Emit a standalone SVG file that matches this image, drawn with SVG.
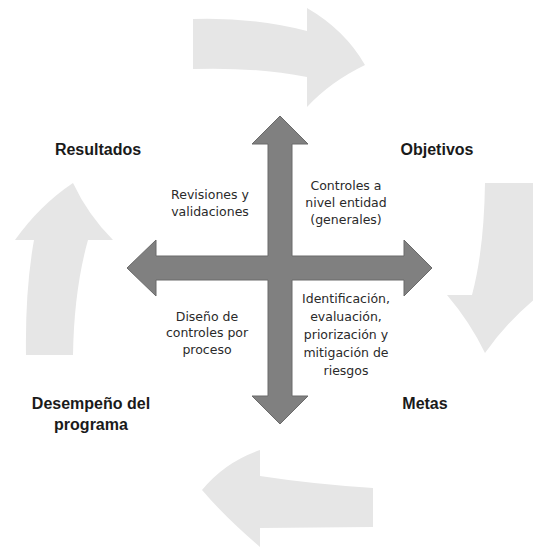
<svg xmlns="http://www.w3.org/2000/svg" width="533" height="550" viewBox="0 0 533 550">
  <style>
    .cycle { fill: #e6e6e6; }
    .cross { fill: #808080; stroke: #6a6a6a; stroke-width: 1; stroke-linejoin: miter; }
    .stage { font-family: "Liberation Sans", Arial, sans-serif; font-weight: bold; font-size: 16px; fill: #1a1a1a; text-anchor: middle; }
    .note { font-family: "DejaVu Sans", "Liberation Sans", sans-serif; font-size: 12.5px; fill: #2a2a2a; text-anchor: middle; }
  </style>
  <rect width="533" height="550" fill="#ffffff"/>

  <!-- light cycle arrows around the outside -->
  <g id="connectors">
    <path class="cycle" d="M193,19 Q252,17 307,31 L307,8 Q345,30 365,65 Q330,82 307,107 L307,77 Q255,67 193,69 Z"/>
    <path class="cycle" d="M485,183 L540,183 L538,293 L542,293 Q508,320 485,353 Q470,322 447,295 L472,295 Q484,250 485,183 Z"/>
    <path class="cycle" d="M373,488 L373,527 L260,528 L260,547 Q225,517 202,490 Q225,462 260,450 L260,476 Q312,484 373,488 Z"/>
    <path class="cycle" d="M26,355 Q25,290 34,240 L15,240 Q40,205 73,183 Q88,215 113,240 L88,240 Q74,290 73,355 Z"/>
  </g>

  <!-- central four-way arrow -->
  <g id="cross">
    <polygon class="cross" points="280,116 308,144 292,144 292,256 404,256 404,240 432,268 404,296 404,280 292,280 292,396 308,396 280,424 252,396 268,396 268,280 156,280 156,296 127,268 156,240 156,256 268,256 268,144 252,144"/>
  </g>

  <g id="resultados"><text class="stage" x="98" y="155">Resultados</text></g>
  <g id="objetivos"><text class="stage" x="437" y="155">Objetivos</text></g>
  <g id="metas"><text class="stage" x="425" y="409">Metas</text></g>
  <g id="desempeno">
    <text class="stage" x="91" y="409">Desempeño del</text>
    <text class="stage" x="91" y="430">programa</text>
  </g>

  <g id="revisiones">
    <text class="note" x="210" y="199">Revisiones y</text>
    <text class="note" x="210" y="216">validaciones</text>
  </g>
  <g id="controles-entidad">
    <text class="note" x="346" y="190">Controles a</text>
    <text class="note" x="346" y="207">nivel entidad</text>
    <text class="note" x="346" y="224">(generales)</text>
  </g>
  <g id="diseno">
    <text class="note" x="207" y="321">Diseño de</text>
    <text class="note" x="207" y="337">controles por</text>
    <text class="note" x="207" y="354">proceso</text>
  </g>
  <g id="riesgos">
    <text class="note" x="346" y="303">Identificación,</text>
    <text class="note" x="346" y="321">evaluación,</text>
    <text class="note" x="346" y="339">priorización y</text>
    <text class="note" x="346" y="357">mitigación de</text>
    <text class="note" x="346" y="375">riesgos</text>
  </g>
</svg>
